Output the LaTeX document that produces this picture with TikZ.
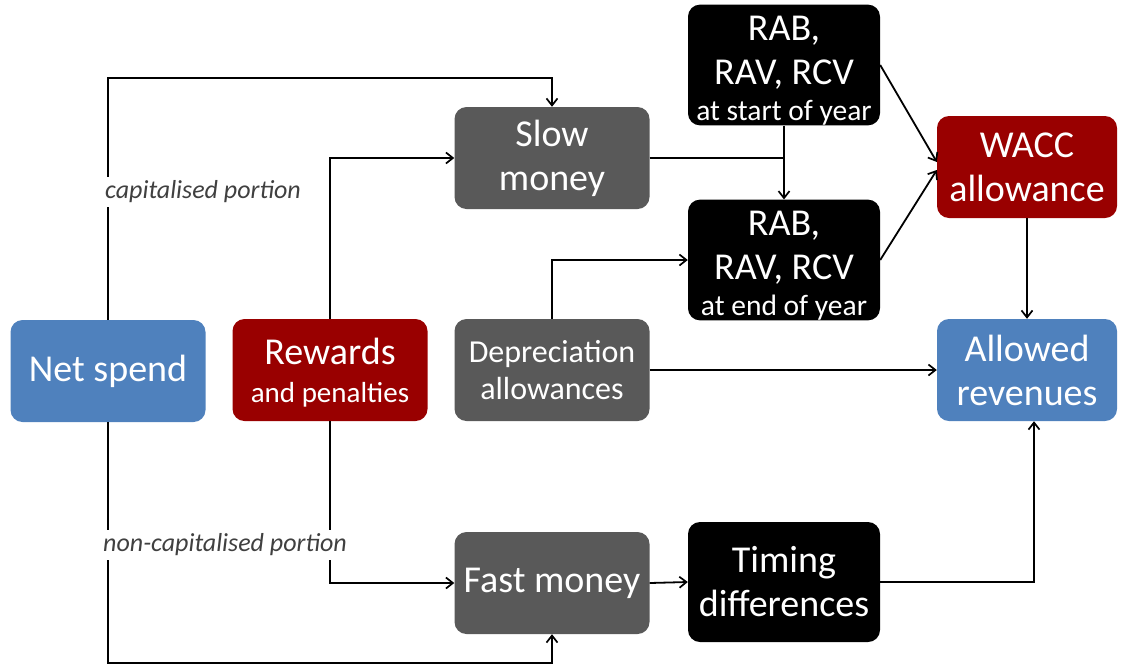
\documentclass[tikz,border=0pt]{standalone}
\usepackage{fontspec}
\setmainfont{Carlito}
\usetikzlibrary{arrows.meta}
\definecolor{cblue}{HTML}{4F81BD}
\definecolor{cred}{HTML}{990000}
\definecolor{cgray}{HTML}{595959}
\definecolor{clab}{HTML}{404040}
\tikzset{
  box/.style={rounded corners=12pt, inner sep=0pt, text=white, align=center,
    minimum width=195pt, minimum height=102pt, font=\fontsize{38}{44}\selectfont},
  bluebox/.style={box, fill=cblue, minimum width=180pt},
  redbox/.style={box, fill=cred},
  graybox/.style={box, fill=cgray},
  blackbox/.style={box, fill=black, minimum width=192pt, minimum height=120pt},
  conn/.style={line width=1.8pt, -{Straight Barb[length=7pt,width=11pt,line width=1.7pt]}},
  plain/.style={line width=1.8pt},
  lab/.style={fill=white, inner xsep=2pt, inner ysep=4pt, text=clab,
    font=\itshape\fontsize{26}{29}\selectfont}
}
\begin{document}
\begin{tikzpicture}[x=1pt,y=-1pt]
\useasboundingbox (0,0) rectangle (1126,665);
\node[bluebox, minimum width=195pt] (net) at (108,371) {Net spend};
\node[redbox] (rew) at (330,370) {\rule{0pt}{32pt}Rewards\\[-6pt]{\fontsize{29}{34}\selectfont and penalties}};
\node[graybox] (slow) at (552,158) {Slow\\money};
\node[graybox, font=\fontsize{32}{37}\selectfont] (dep) at (552,370) {Depreciation\\allowances};
\node[graybox] (fast) at (552,583) {Fast money};
\node[blackbox] (rabs) at (784,65) {\rule{0pt}{36pt}RAB,\\RAV, RCV\\[-8pt]{\fontsize{29.5}{34}\selectfont at start of year}};
\node[blackbox] (rabe) at (784,260) {\rule{0pt}{36pt}RAB,\\RAV, RCV\\[-8pt]{\fontsize{29.5}{34}\selectfont at end of year}};
\node[blackbox] (tim) at (784,582) {Timing\\differences};
\node[redbox, minimum width=180pt] (wacc) at (1027,167) {WACC\\allowance};
\node[bluebox] (allowed) at (1027,370) {Allowed\\revenues};

\draw[conn] (net.north) -- ++(0,-242) -| (slow.north);
\draw[conn] (net.south) -- ++(0,241) -| (fast.south);
\draw[conn] (rew.north) |- (slow.west);
\draw[conn] (rew.south) |- (fast.west);
\node[lab, anchor=west] (capl) at (103,192) {capitalised portion};
\node[lab, anchor=west] (ncapl) at (101,545) {non-capitalised portion};
\draw[plain] (slow.east) -- (slow.east -| rabs.south);
\draw[conn] (rabs.south) -- (rabe.north);
\draw[conn] (dep.north) |- (rabe.west);
\draw[conn] (dep.east) -- (allowed.west);
\draw[conn] (rabs.east) -- ([yshift=5pt]wacc.west);
\draw[conn] (rabe.east) -- ([yshift=-3pt]wacc.west);
\draw[conn] (wacc.south) -- (allowed.north);
\draw[conn] (fast.east) -- (tim.west);
\draw[conn] (tim.east) -| ([xshift=7pt]allowed.south);
\end{tikzpicture}
\end{document}
